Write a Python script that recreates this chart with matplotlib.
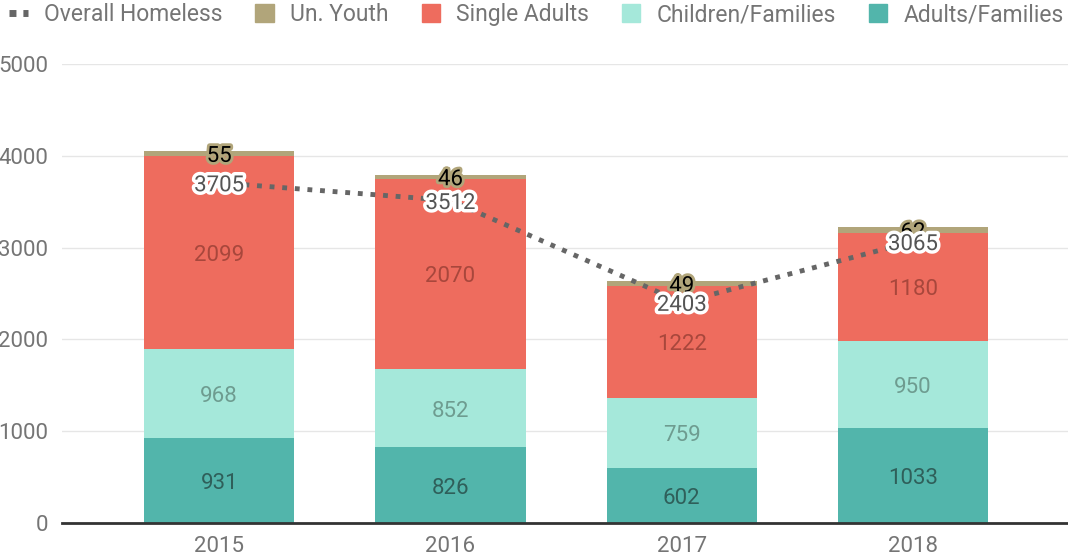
import matplotlib.pyplot as plt
import matplotlib.patheffects as pe
import matplotlib.transforms as mtrans
from matplotlib.lines import Line2D
from matplotlib.patches import Patch

plt.rcParams['font.family'] = ['Roboto', 'DejaVu Sans']

years = ['2015', '2016', '2017', '2018']
adults_families = [931, 826, 602, 1033]
children_families = [968, 852, 759, 950]
single_adults = [2099, 2070, 1222, 1180]
un_youth = [55, 46, 49, 62]
overall = [3705, 3512, 2403, 3065]

c_adult = '#52b5ab'
c_child = '#a5e8da'
c_single = '#ee6c5e'
c_youth = '#b1a57a'
c_line = '#666666'
grey = '#757575'

fig = plt.figure(figsize=(10.68, 5.6), dpi=100)
ax = fig.add_axes([0.058, 0.066, 0.942, 0.82])
# nudge labels down a few pixels, like the reference
down = mtrans.offset_copy(ax.transData, fig=fig, x=0, y=-3, units='dots')

x = range(len(years))
w = 0.65
series = [
    (adults_families, c_adult, '#2f5f5a'),
    (children_families, c_child, '#6e9c90'),
    (single_adults, c_single, '#a8473c'),
]
bottom = [0] * len(years)
for vals, col, tcol in series:
    ax.bar(x, vals, w, bottom=bottom, color=col, zorder=2)
    for i, v in enumerate(vals):
        ax.text(i, bottom[i] + v / 2, str(v), ha='center', va='center',
                fontsize=16, color=tcol, zorder=5, transform=down)
    bottom = [b + v for b, v in zip(bottom, vals)]

ax.bar(x, un_youth, w, bottom=bottom, color=c_youth, zorder=2)
for i, v in enumerate(un_youth):
    ax.text(i, bottom[i] + v / 2, str(v), ha='center', va='center',
            fontsize=16, color='black', zorder=6, transform=down,
            path_effects=[pe.withStroke(linewidth=4, foreground=c_youth)])

ax.plot(x, overall, color=c_line, linewidth=3.5, linestyle=(0, (1, 1.6)),
        zorder=4)
for i, v in enumerate(overall):
    ax.text(i, v, str(v), ha='center', va='center', fontsize=16,
            color='#555555', zorder=7, transform=down,
            path_effects=[pe.withStroke(linewidth=5, foreground='white')])

ax.set_ylim(0, 5000)
ax.set_xlim(-0.68, 3.67)
ax.set_yticks([0, 1000, 2000, 3000, 4000, 5000])
ax.set_xticks(list(x))
ax.set_xticklabels(years)
ax.tick_params(axis='both', length=0, labelsize=16, labelcolor=grey)
ax.tick_params(axis='x', pad=9)
ax.tick_params(axis='y', pad=10)
ax.grid(axis='y', color='#e6e6e6', linewidth=1, zorder=0)
ax.set_axisbelow(True)
for s in ['left', 'right', 'top']:
    ax.spines[s].set_visible(False)
ax.spines['bottom'].set_color('#333333')
ax.spines['bottom'].set_linewidth(2)
ax.spines['bottom'].set_zorder(3)

handles = [
    Line2D([0], [0], color=c_line, linewidth=5, linestyle=(0, (1, 1))),
    Patch(color=c_youth),
    Patch(color=c_single),
    Patch(color=c_child),
    Patch(color=c_adult),
]
labels = ['Overall Homeless', 'Un. Youth', 'Single Adults',
          'Children/Families', 'Adults/Families']
fig.legend(handles, labels, loc='upper left', bbox_to_anchor=(-0.002, 1.015),
           ncol=5, frameon=False, fontsize=16.5, labelcolor=grey,
           handlelength=0.8, handleheight=0.8, handletextpad=0.7,
           columnspacing=1.45, borderaxespad=0.2, borderpad=0.3)

fig.savefig('out.png', dpi=100)
